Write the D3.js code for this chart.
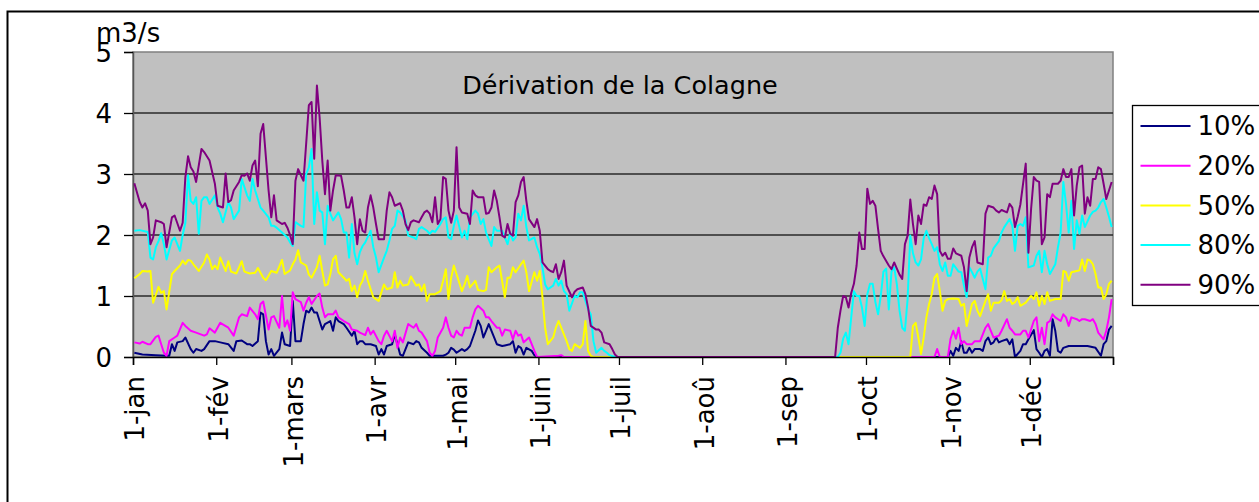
<!DOCTYPE html>
<html>
<head>
<meta charset="utf-8">
<script src="https://cdn.jsdelivr.net/npm/d3@7/dist/d3.min.js"></script>
<style>
  body { margin: 0; background: #fff; }
  svg text { font-family: "DejaVu Sans", Verdana, sans-serif; fill: #000; }
</style>
</head>
<body>
<div id="chart"></div>
<script>
// débits classés de la dérivation (m3/s), jour de l'année -> valeur
const titre = "Dérivation de la Colagne";
const unite = "m3/s";
const moisJours = [0, 31, 59, 90, 120, 151, 181, 212, 243, 273, 304, 334, 365];
const moisLabels = ["1-jan", "1-fév", "1-mars", "1-avr", "1-mai", "1-juin", "1-juil", "1-aoû", "1-sep", "1-oct", "1-nov", "1-déc", ""];
const yTicks = [0, 1, 2, 3, 4, 5];

const q10 = [[0,0.07],[3,0.04],[8,0.03],[12,0.02],[13,0.02],[14,0.21],[15,0.1],[16,0.24],[18,0.26],[19,0.32],[21,0.13],[22,0.07],[23,0.13],[25,0.1],[26,0.13],[28,0.26],[30,0.26],[32,0.24],[35,0.21],[37,0.1],[38,0.26],[40,0.27],[42,0.21],[43,0.21],[44,0.18],[46,0.26],[47,0.73],[48,0.7],[49,0.26],[50,0.04],[51,0.13],[52,0.02],[54,0.13],[55,0.4],[56,0.21],[58,0.18],[59,0.92],[60,0.26],[62,0.26],[63,0.54],[64,0.76],[65,0.73],[66,0.81],[67,0.73],[68,0.73],[69,0.59],[70,0.45],[71,0.54],[73,0.59],[74,0.43],[75,0.65],[76,0.59],[78,0.54],[79,0.48],[81,0.35],[82,0.43],[83,0.21],[84,0.26],[85,0.26],[86,0.21],[88,0.21],[90,0.18],[91,0.04],[92,0.13],[93,0.04],[94,0.18],[96,0.21],[97,0.37],[99,0.04],[100,0.02],[101,0.13],[102,0.24],[104,0.21],[105,0.26],[106,0.24],[107,0.15],[109,0.07],[110,0.02],[112,0.02],[115,0.02],[116,0.04],[117,0.07],[118,0.15],[119,0.12],[120,0.07],[122,0.13],[123,0.1],[124,0.13],[125,0.18],[127,0.43],[128,0.6],[129,0.51],[130,0.32],[131,0.43],[132,0.54],[134,0.32],[135,0.21],[137,0.18],[138,0.19],[140,0.21],[141,0.26],[142,0.07],[143,0.18],[144,0.15],[145,0.04],[146,0.15],[148,0.1],[149,0.03],[150,0],
  [303,0],[304,0.1],[305,0.02],[306,0.15],[307,0.1],[308,0.26],[309,0.07],[310,0.07],[311,0.15],[312,0.07],[313,0.13],[315,0.13],[316,0.1],[317,0.26],[318,0.32],[319,0.21],[320,0.24],[321,0.32],[322,0.24],[323,0.26],[325,0.29],[326,0.21],[327,0.29],[328,0],[330,0.1],[331,0.21],[332,0.21],[333,0.29],[335,0.44],[336,0.13],[337,0.07],[338,0],[339,0.1],[340,0.13],[341,0.02],[342,0.62],[343,0.43],[344,0.1],[345,0.07],[346,0.15],[348,0.18],[350,0.18],[353,0.18],[355,0.18],[358,0.15],[360,0.02],[361,0.21],[362,0.26],[363,0.45],[364,0.51]];

const q20 = [[0,0.24],[2,0.22],[3,0.25],[5,0.21],[6,0.21],[8,0.33],[9,0.35],[10,0.21],[11,0.07],[12,0.02],[13,0.26],[15,0.32],[16,0.35],[18,0.56],[19,0.51],[21,0.43],[23,0.4],[26,0.35],[27,0.37],[28,0.47],[30,0.4],[32,0.56],[35,0.48],[37,0.35],[39,0.65],[40,0.7],[42,0.67],[43,0.81],[45,0.7],[46,0.62],[47,0.87],[48,0.91],[50,0.45],[51,0.65],[52,0.67],[54,0.48],[55,1.0],[56,0.5],[57,0.6],[58,0.43],[59,1.06],[60,0.95],[62,0.9],[63,0.76],[64,0.89],[65,0.98],[66,0.87],[68,1.0],[69,1.04],[70,0.81],[71,0.65],[72,0.7],[74,0.7],[75,0.76],[76,0.65],[78,0.59],[80,0.54],[81,0.45],[83,0.43],[84,0.4],[86,0.36],[87,0.48],[88,0.37],[89,0.43],[91,0.26],[92,0.21],[93,0.35],[94,0.43],[96,0.26],[97,0.43],[98,0.15],[99,0.32],[100,0.24],[102,0.54],[104,0.48],[105,0.54],[106,0.43],[107,0.4],[109,0.26],[110,0.07],[111,0.02],[112,0.1],[113,0.32],[115,0.48],[116,0.65],[117,0.48],[118,0.35],[119,0.32],[120,0.43],[121,0.37],[122,0.35],[123,0.48],[125,0.48],[126,0.65],[127,0.78],[128,0.84],[130,0.76],[131,0.65],[132,0.65],[133,0.59],[135,0.48],[136,0.48],[137,0.35],[138,0.45],[140,0.43],[141,0.29],[142,0.43],[143,0.35],[144,0.37],[145,0.24],[147,0.32],[148,0.21],[149,0.1],[150,0],[158,0.02],[159,0.03],[160,0],
  [298,0],[299,0.13],[300,0],[303,0],[304,0.3],[305,0.43],[306,0.3],[307,0.48],[308,0.21],[309,0.26],[310,0.21],[312,0.21],[313,0.26],[315,0.26],[317,0.48],[318,0.54],[319,0.43],[320,0.32],[322,0.35],[323,0.43],[325,0.62],[326,0.48],[327,0.43],[328,0.37],[330,0.37],[331,0.43],[332,0.43],[333,0.32],[335,0.59],[336,0.65],[337,0.26],[338,0.48],[339,0.21],[340,0.56],[341,0.59],[342,0.7],[343,0.65],[345,0.59],[346,0.7],[347,0.65],[348,0.51],[349,0.65],[351,0.62],[352,0.59],[353,0.62],[354,0.62],[356,0.59],[357,0.62],[358,0.54],[359,0.4],[361,0.29],[362,0.43],[363,0.65],[364,0.95]];

const q50 = [[0,1.29],[2,1.36],[3,1.41],[5,1.4],[6,1.41],[7,0.89],[9,1.15],[10,1.05],[11,1.08],[12,0.78],[14,1.36],[15,1.41],[17,1.5],[18,1.58],[19,1.52],[20,1.59],[21,1.58],[22,1.52],[24,1.41],[26,1.55],[27,1.68],[28,1.6],[29,1.44],[30,1.5],[31,1.44],[32,1.63],[34,1.41],[35,1.57],[36,1.4],[38,1.37],[40,1.57],[41,1.4],[43,1.37],[45,1.38],[46,1.46],[48,1.3],[49,1.26],[51,1.41],[53,1.38],[55,1.59],[56,1.36],[58,1.42],[59,1.52],[60,1.6],[61,1.75],[62,1.55],[64,1.5],[65,1.35],[66,1.3],[68,1.47],[69,1.66],[70,1.41],[71,1.17],[72,1.19],[73,1.36],[74,1.6],[75,1.66],[76,1.39],[78,1.3],[79,1.25],[80,1.28],[81,1.08],[82,1.17],[83,0.98],[84,1.17],[85,1.25],[86,1.41],[87,1.25],[89,0.98],[90,0.95],[91,0.92],[92,1.06],[93,1.19],[94,1.11],[96,1.14],[97,1.39],[98,1.14],[99,1.25],[100,1.17],[102,1.19],[103,1.32],[105,1.17],[106,1.19],[107,1.08],[108,1.19],[109,0.92],[110,1.03],[112,1.03],[114,1.08],[115,1.25],[116,1.44],[117,0.95],[118,1.3],[119,1.5],[120,1.36],[122,1.08],[123,1.19],[124,1.33],[125,1.14],[127,1.25],[128,1.1],[130,1.08],[131,1.1],[132,1.47],[133,1.39],[135,1.47],[136,1.5],[138,0.98],[139,1.3],[140,1.3],[141,1.47],[142,1.39],[144,1.52],[145,1.58],[146,1.39],[147,1.08],[149,1.39],[150,1.25],[151,1.41],[152,0.98],[153,0.48],[154,0.21],[156,0.32],[157,0.48],[158,0.59],[159,0.48],[161,0.26],[162,0.13],[163,0.1],[164,0.21],[166,0.15],[167,0.21],[168,0.59],[169,0.1],[170,0.02],[171,0],
  [289,0],[290,0.51],[291,0.56],[292,0.32],[293,0.05],[294,0.32],[295,0.65],[296,0.87],[297,1.03],[298,1.3],[299,1.36],[300,1.08],[301,0.76],[302,0.92],[303,0.95],[305,0.96],[307,0.95],[308,0.84],[309,0.87],[310,0.51],[312,0.87],[313,0.92],[314,0.76],[315,0.67],[317,0.92],[318,1.03],[319,0.76],[320,0.89],[322,0.89],[323,0.93],[324,1.08],[325,0.92],[326,0.95],[327,0.87],[328,0.9],[329,0.98],[330,0.84],[332,0.89],[333,0.95],[334,1.0],[335,0.95],[336,1.06],[337,0.84],[338,1.0],[339,0.87],[340,1.06],[341,0.92],[343,0.95],[345,0.95],[346,1.41],[347,1.39],[348,1.25],[349,1.39],[351,1.41],[352,1.42],[353,1.6],[354,1.41],[355,1.6],[356,1.58],[357,1.52],[358,1.36],[359,1.14],[360,1.14],[361,0.95],[362,1.03],[363,1.2],[364,1.25]];

const q80 = [[0,2.07],[2,2.08],[5,2.05],[6,1.63],[7,1.6],[8,1.8],[9,1.9],[10,2.03],[11,1.85],[12,1.6],[14,1.91],[15,1.96],[17,1.74],[18,2.0],[19,2.2],[20,2.98],[21,2.56],[22,2.51],[23,2.62],[24,2.02],[25,2.56],[26,2.62],[27,2.62],[28,2.51],[30,2.65],[31,2.45],[32,2.35],[33,2.21],[35,2.54],[36,2.45],[37,2.26],[39,2.4],[40,2.92],[42,2.65],[43,2.56],[44,2.92],[45,2.73],[46,2.59],[47,2.45],[48,2.4],[50,2.29],[51,2.15],[52,2.15],[53,2.12],[55,2.04],[57,1.96],[58,1.88],[59,1.82],[60,2.21],[62,2.15],[63,2.13],[64,3.0],[65,3.11],[66,3.41],[67,2.18],[68,2.7],[69,2.4],[70,2.37],[71,1.85],[72,2.48],[73,2.35],[74,2.24],[76,2.37],[77,2.26],[78,2.04],[79,2.04],[80,1.63],[81,2.18],[82,1.7],[83,1.52],[84,1.72],[85,1.82],[86,1.88],[88,2.07],[89,1.8],[90,1.63],[91,1.39],[93,1.63],[94,1.74],[95,1.91],[96,2.1],[97,2.15],[98,2.4],[99,2.37],[101,2.24],[102,1.99],[104,1.96],[105,1.93],[106,2.1],[107,2.13],[109,2.07],[110,2.02],[111,2.07],[112,2.05],[114,2.18],[115,2.26],[116,2.29],[117,1.96],[118,1.93],[119,2.15],[120,2.32],[122,1.96],[123,2.07],[124,1.93],[125,2.29],[127,2.4],[128,2.35],[129,2.18],[130,2.26],[131,2.04],[133,1.82],[134,2.13],[135,2.07],[137,2.07],[138,1.96],[139,1.85],[140,2.04],[141,1.91],[142,1.96],[143,2.35],[144,2.24],[145,2.48],[146,2.13],[147,1.91],[149,1.96],[150,1.8],[151,1.69],[152,1.47],[153,1.19],[154,1.11],[156,1.17],[157,1.28],[158,1.17],[159,1.25],[160,1.08],[161,1.03],[162,0.76],[164,1.0],[165,0.98],[166,1.06],[167,1.06],[169,0.78],[170,0.7],[171,0.26],[172,0.07],[174,0.15],[175,0.1],[176,0.07],[177,0.03],[179,0],
  [262,0],[263,0.07],[264,0.3],[265,0.4],[266,0.21],[267,0.65],[268,1.08],[269,1.0],[270,1.0],[271,0.81],[272,0.51],[273,1.03],[274,1.2],[275,1.2],[276,0.9],[277,0.7],[278,1.0],[279,1.4],[280,1.45],[281,0.78],[282,1.4],[283,1.47],[284,1.19],[285,0.76],[286,0.48],[287,0.43],[288,0.95],[289,1.99],[290,1.7],[291,1.55],[292,1.5],[293,1.6],[294,1.95],[295,2.07],[296,1.95],[297,1.85],[298,1.74],[299,1.8],[300,1.52],[301,1.41],[302,1.55],[303,1.33],[304,1.33],[305,1.52],[307,1.4],[308,1.39],[309,1.17],[310,0.98],[311,1.47],[312,1.39],[313,1.3],[314,1.4],[315,1.45],[317,1.11],[318,1.63],[319,1.66],[320,1.78],[322,1.9],[323,2.04],[324,2.13],[326,2.26],[327,2.15],[328,1.74],[329,2.15],[330,2.18],[331,2.15],[332,2.29],[333,1.47],[335,1.5],[336,1.66],[337,1.74],[338,1.39],[339,1.74],[340,1.52],[341,1.36],[343,1.52],[344,1.8],[345,2.04],[346,2.87],[347,2.51],[348,2.04],[349,2.56],[350,1.77],[351,2.24],[352,2.02],[353,2.32],[354,2.13],[356,2.32],[357,2.38],[358,2.4],[359,2.45],[360,2.54],[361,2.59],[362,2.45],[363,2.3],[364,2.13]];

const q90 = [[0,2.85],[2,2.54],[3,2.45],[4,2.52],[5,2.4],[6,1.85],[7,1.96],[8,2.24],[10,2.21],[11,2.18],[12,1.8],[14,2.29],[15,2.32],[17,2.07],[18,2.2],[19,2.95],[20,3.29],[21,3.11],[22,3.04],[23,2.87],[25,3.41],[26,3.36],[27,3.29],[28,3.22],[30,2.84],[31,2.48],[33,2.45],[34,3.01],[35,2.54],[36,2.57],[37,2.73],[39,2.87],[40,2.98],[41,2.97],[42,3.01],[43,2.89],[44,3.14],[45,3.22],[46,2.8],[47,3.66],[48,3.82],[50,2.73],[51,2.29],[52,2.65],[53,2.24],[55,2.18],[56,2.2],[57,2.12],[58,2.0],[59,1.85],[60,2.89],[61,3.08],[62,2.98],[63,2.89],[64,3.5],[65,4.13],[66,4.18],[67,3.25],[68,4.45],[69,3.93],[70,3.22],[71,2.67],[72,3.22],[73,2.4],[74,2.73],[75,2.98],[77,2.97],[78,2.73],[79,2.45],[80,2.45],[81,2.62],[82,2.29],[83,1.85],[84,2.26],[85,2.07],[86,2.04],[87,2.45],[88,2.65],[89,2.45],[90,2.18],[91,1.93],[93,1.93],[94,2.4],[95,2.7],[96,2.62],[97,2.48],[99,2.52],[100,2.4],[101,2.18],[102,2.08],[103,2.21],[104,2.24],[106,2.21],[107,2.29],[108,2.37],[109,2.4],[110,2.35],[111,2.21],[112,2.62],[113,2.18],[114,2.26],[115,2.95],[116,2.92],[117,2.4],[118,2.2],[119,2.4],[120,3.44],[121,2.45],[122,2.37],[124,2.35],[125,2.18],[126,2.73],[127,2.65],[128,2.62],[130,2.62],[131,2.35],[132,2.36],[133,2.45],[134,2.73],[135,2.56],[136,2.29],[137,1.99],[138,1.96],[139,2.18],[140,2.02],[141,1.99],[142,2.54],[143,2.65],[144,2.87],[145,2.95],[146,2.56],[147,2.26],[149,2.13],[150,2.26],[151,2.07],[152,1.55],[154,1.44],[155,1.41],[156,1.39],[157,1.52],[158,1.28],[159,1.39],[160,1.58],[161,1.17],[163,0.98],[164,1.07],[165,1.11],[167,1.14],[168,1.03],[169,0.81],[170,0.51],[172,0.45],[173,0.45],[174,0.4],[175,0.24],[177,0.21],[178,0.13],[179,0.04],[180,0],
  [261,0],[262,0.48],[263,0.76],[264,1.0],[265,0.98],[266,0.81],[267,1.05],[268,1.2],[269,1.5],[270,2.04],[271,1.77],[272,1.77],[273,2.76],[274,2.51],[275,2.56],[276,2.48],[277,2.1],[278,1.74],[279,1.65],[281,1.5],[282,1.44],[283,1.55],[284,1.45],[285,1.35],[286,1.28],[287,1.85],[288,1.99],[289,2.58],[290,2.18],[291,1.85],[292,2.32],[293,2.18],[294,2.5],[295,2.48],[296,2.62],[297,2.59],[298,2.81],[299,2.67],[300,1.74],[301,1.66],[302,1.71],[303,1.61],[304,1.61],[305,1.78],[306,1.7],[308,1.66],[309,1.47],[310,1.08],[311,1.63],[312,1.8],[313,1.9],[314,1.55],[316,1.52],[317,2.35],[318,2.48],[320,2.45],[321,2.4],[322,2.37],[323,2.41],[325,2.37],[326,2.51],[327,2.45],[328,2.13],[329,2.3],[330,2.5],[331,2.84],[332,3.17],[333,1.71],[334,2.43],[335,2.95],[336,2.89],[337,2.87],[338,1.85],[339,1.96],[340,2.67],[341,2.62],[342,2.84],[344,2.84],[345,2.89],[346,3.08],[347,2.95],[348,2.95],[349,3.08],[350,2.32],[351,2.81],[352,3.11],[353,3.14],[354,2.35],[355,2.62],[356,2.48],[357,2.92],[358,2.92],[359,3.11],[360,3.08],[361,2.84],[362,2.59],[363,2.73],[364,2.87]];

const noms = ["10%", "20%", "50%", "80%", "90%"];
const couleurs = ["#000080", "#ff00ff", "#ffff00", "#00ffff", "#800080"];
const series = [q10, q20, q50, q80, q90].map((v, i) => ({ nom: noms[i], couleur: couleurs[i], valeurs: v }));

const width = 1259, height = 502;
const plot = { left: 133, right: 1113, top: 52, bottom: 357 };

const svg = d3.select("#chart").append("svg")
    .attr("width", width)
    .attr("height", height);

// cadre extérieur (coupé par le bord de l'image)
svg.append("rect")
    .attr("x", 7.5).attr("y", 11.5)
    .attr("width", 1400).attr("height", 700)
    .attr("fill", "#fff")
    .attr("stroke", "#000")
    .attr("stroke-width", 2);

const x = d3.scaleLinear().domain([0, 365]).range([plot.left, plot.right]);
const y = d3.scaleLinear().domain([0, 5]).range([plot.bottom, plot.top]);

// zone de tracé grise
svg.append("rect")
    .attr("x", plot.left).attr("y", plot.top)
    .attr("width", plot.right - plot.left)
    .attr("height", plot.bottom - plot.top)
    .attr("fill", "#c0c0c0")
    .attr("stroke", "#808080")
    .attr("stroke-width", 1.5);

// quadrillage
svg.append("g")
    .selectAll("line")
    .data(yTicks.filter(d => d > 0 && d < 5))
    .join("line")
    .attr("x1", plot.left).attr("x2", plot.right)
    .attr("y1", d => y(d)).attr("y2", d => y(d))
    .attr("stroke", "#2a2a2a")
    .attr("stroke-width", 1.4);

// axe Y
const yAxis = svg.append("g")
    .attr("transform", `translate(${plot.left},0)`)
    .call(d3.axisLeft(y).tickValues(yTicks).tickSize(9).tickPadding(12).tickFormat(d3.format("d")));
yAxis.select(".domain").attr("stroke", "#555").attr("stroke-width", 1.5);
yAxis.selectAll(".tick line").attr("stroke", "#000").attr("stroke-width", 1.3);
yAxis.selectAll("text").attr("font-size", 26).attr("dy", "0.36em");

// courbes
const line = d3.line()
    .x(d => x(d[0] + 0.5))
    .y(d => y(d[1]));

svg.append("g")
    .selectAll("path")
    .data(series)
    .join("path")
    .attr("d", d => line(d.valeurs))
    .attr("fill", "none")
    .attr("stroke", d => d.couleur)
    .attr("stroke-width", 2)
    .attr("stroke-linejoin", "round");

// axe X
const xAxis = svg.append("g")
    .attr("transform", `translate(0,${plot.bottom})`)
    .call(d3.axisBottom(x).tickValues(moisJours).tickSize(8).tickFormat((d, i) => moisLabels[i]));
xAxis.select(".domain").attr("stroke", "#000").attr("stroke-width", 1.5);
xAxis.selectAll(".tick line").attr("stroke", "#000").attr("stroke-width", 1.3);
xAxis.selectAll("text")
    .attr("font-size", 26)
    .attr("text-anchor", "end")
    .attr("transform", "rotate(-90)")
    .attr("x", -19)
    .attr("y", 0)
    .attr("dy", "0.42em");

// titre et unité
svg.append("text")
    .attr("x", 620).attr("y", 94)
    .attr("text-anchor", "middle")
    .attr("font-size", 25.5)
    .text(titre);

svg.append("text")
    .attr("x", 96).attr("y", 42)
    .attr("font-size", 26)
    .text(unite);

// légende
const leg = svg.append("g").attr("transform", "translate(1132.5,105.5)");
leg.append("rect")
    .attr("width", 200).attr("height", 200)
    .attr("fill", "#fff")
    .attr("stroke", "#000")
    .attr("stroke-width", 1.3);

const item = leg.selectAll(".item")
    .data(series)
    .join("g")
    .attr("class", "item")
    .attr("transform", (d, i) => `translate(0,${20.5 + i * 39.7})`);

item.append("line")
    .attr("x1", 8).attr("x2", 58)
    .attr("stroke", d => d.couleur)
    .attr("stroke-width", 2);

item.append("text")
    .attr("x", 65)
    .attr("dy", "0.36em")
    .attr("font-size", 26)
    .text(d => d.nom);
</script>
</body>
</html>
